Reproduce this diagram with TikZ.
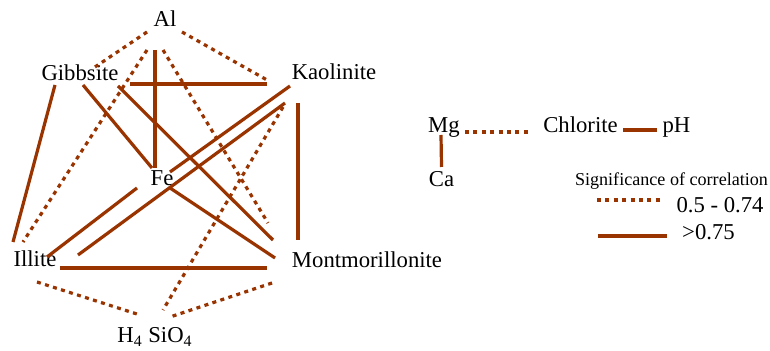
\documentclass[tikz,border=0pt]{standalone}
\usepackage{fontspec}
\setmainfont{Liberation Serif}
\usepackage{xcolor}
\definecolor{corrbrown}{RGB}{153,51,0}

\begin{document}
\begin{tikzpicture}[x=0.5pt, y=-0.5pt,
    every node/.style={inner sep=0pt, anchor=base, font=\fontsize{11.35}{13}\selectfont},
    strong/.style={draw=corrbrown, line width=1.6pt},
    weak/.style={draw=corrbrown, line width=1.6pt, dash pattern=on 2pt off 2.2pt}]
    \useasboundingbox (0,0) rectangle (770,351);
    % minerals and elements
    \node (al) at (165,27) {Al};
    \node (gibbsite) at (80,81) {Gibbsite};
    \node (kaolinite) at (334,80) {Kaolinite};
    \node (fe) at (162,186) {Fe};
    \node (illite) at (35,267) {Illite};
    \node (mont) at (367,268) {Montmorillonite};
    \node (silica) at (155,343) {H\textsubscript{4} SiO\textsubscript{4}};
    \node (mg) at (444,133) {Mg};
    \node (chlorite) at (580.5,133) {Chlorite};
    \node (ph) at (676.5,133) {pH};
    \node (ca) at (441.5,187) {Ca};
    % legend
    \node[font=\fontsize{9.05}{11}\selectfont] (legend) at (671.5,186) {Significance of correlation};
    \node (lgweak) at (720,213) {0.5 - 0.74};
    \node (lgstrong) at (708.5,240) {>0.75};
    \coordinate (weak a) at (597,200);
    \coordinate (weak b) at (662,200);
    \coordinate (strong a) at (598,236);
    \coordinate (strong b) at (667,236);
    % correlations > 0.75
    \draw[strong] ([shift={(-10,23)}]al.base) -- ([shift={(-7,-18)}]fe.base);
    \draw[strong] ([shift={(50,3)}]gibbsite.base) -- ([shift={(-67,4)}]kaolinite.base);
    \draw[strong] ([shift={(-25,4)}]gibbsite.base) -- ([shift={(-22,-25)}]illite.base);
    \draw[strong] ([shift={(3,4)}]gibbsite.base) -- ([shift={(-10,-18)}]fe.base);
    \draw[strong] ([shift={(38,5)}]gibbsite.base) -- ([shift={(-94,-28)}]mont.base);
    \draw[strong] ([shift={(-44,6)}]kaolinite.base) -- ([shift={(8,-14)}]fe.base);
    \draw[strong] ([shift={(-49,23)}]kaolinite.base) -- ([shift={(43,-12)}]illite.base);
    \draw[strong] ([shift={(-36,23)}]kaolinite.base) -- ([shift={(-69,-28)}]mont.base);
    \draw[strong] ([shift={(-25,2)}]fe.base) -- ([shift={(12,-10)}]illite.base);
    \draw[strong] ([shift={(8,2)}]fe.base) -- ([shift={(-92,-10)}]mont.base);
    \draw[strong] ([shift={(25,1)}]illite.base) -- ([shift={(-100,0)}]mont.base);
    \draw[strong] ([shift={(-3,2)}]mg.base) -- ([shift={(0,-20)}]ca.base);
    \draw[strong] ([shift={(42.5,-3)}]chlorite.base) -- ([shift={(-19.5,-3)}]ph.base);
    % correlations 0.5 - 0.74
    \draw[weak] ([shift={(-18,5)}]al.base) -- ([shift={(15,-14)}]gibbsite.base);
    \draw[weak] ([shift={(17,5)}]al.base) -- ([shift={(-67,0)}]kaolinite.base);
    \draw[weak] ([shift={(-18,23)}]al.base) -- ([shift={(-12,-25)}]illite.base);
    \draw[weak] ([shift={(-2,23)}]al.base) -- ([shift={(-99,-45)}]mont.base);
    \draw[weak] ([shift={(-51,27)}]kaolinite.base) -- ([shift={(8,-33)}]silica.base);
    \draw[weak] ([shift={(2,15)}]illite.base) -- ([shift={(-15,-28)}]silica.base);
    \draw[weak] ([shift={(-95,15)}]mont.base) -- ([shift={(15,-26)}]silica.base);
    \draw[weak] ([shift={(21,-1)}]mg.base) -- ([shift={(-50.5,-1)}]chlorite.base);
    % legend lines
    \draw[weak] (weak a) -- (weak b);
    \draw[strong] (strong a) -- (strong b);
\end{tikzpicture}
\end{document}
